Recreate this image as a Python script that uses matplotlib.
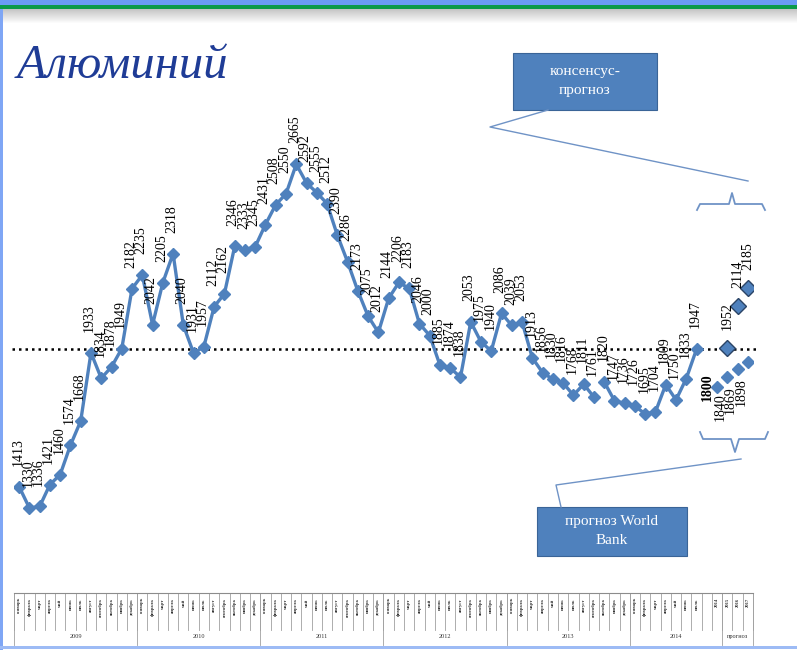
import matplotlib
matplotlib.use("Agg")
import matplotlib.pyplot as plt
from matplotlib.patches import Rectangle

plt.rcParams["font.family"] = ["Liberation Serif", "DejaVu Serif"]

# Monthly LME aluminium prices, Jan 2009 - Jul 2014
months = ["январь", "февраль", "март", "апрель", "май", "июнь",
          "июль", "август", "сентябрь", "октябрь", "ноябрь", "декабрь"]
prices_2009 = [1413, 1330, 1336, 1421, 1460, 1574, 1668, 1933, 1834, 1878, 1949, 2182]
prices_2010 = [2235, 2042, 2205, 2318, 2040, 1931, 1957, 2112, 2162, 2346, 2333, 2345]
prices_2011 = [2431, 2508, 2550, 2665, 2592, 2555, 2512, 2390, 2286, 2173, 2075, 2012]
prices_2012 = [2144, 2206, 2183, 2046, 2000, 1885, 1874, 1838, 2053, 1975, 1940, 2086]
prices_2013 = [2039, 2053, 1913, 1856, 1830, 1816, 1768, 1811, 1761, 1820, 1747, 1736]
prices_2014 = [1726, 1695, 1704, 1809, 1750, 1833, 1947]
prices = prices_2009 + prices_2010 + prices_2011 + prices_2012 + prices_2013 + prices_2014

# forecasts
wb_years = ["2014", "2015", "2016", "2017"]
wb_values = [1800, 1840, 1869, 1898]
cons_years = ["2015", "2016", "2017"]
cons_values = [1952, 2114, 2185]
level = 1947

# category axis
categories = months * 5 + months[:7] + ["", "2014", "2015", "2016", "2017"]
group_names = ["2009", "2010", "2011", "2012", "2013", "2014", "прогноз"]
group_sizes = [12, 12, 12, 12, 12, 9, 3]

W, H = 797, 650
fig = plt.figure(figsize=(W / 100, H / 100), dpi=100)
ax = fig.add_axes([14 / W, 1 - 593 / H, 739 / W, 515 / H])
ax.set_xlim(-0.5, len(categories) - 0.5)
ax.set_ylim(1000, 3000)

blue = "#4F81BD"
x_hist = list(range(len(prices)))
# the line has a break between Sep and Oct 2013 in the original
brk = 57
ax.plot(x_hist[:brk], prices[:brk], color=blue, lw=2.4, marker="D", ms=6, zorder=3)
ax.plot(x_hist[brk:], prices[brk:], color=blue, lw=2.4, marker="D", ms=6, zorder=3)

for i, v in enumerate(prices):
    ax.annotate(str(v), (i, v), xytext=(-1, 15), textcoords="offset points",
                rotation=90, ha="center", va="bottom", fontsize=10)

wb_x = [len(categories) - 4 + wb_years.index(y) for y in wb_years]
ax.plot(wb_x, wb_values, ls="none", marker="D", ms=6.5, color=blue, zorder=3)
for k, (x, v) in enumerate(zip(wb_x, wb_values)):
    if k == 0:
        ax.annotate(str(v), (x, v), xytext=(-7, 0), textcoords="offset points",
                    rotation=90, ha="center", va="center", fontsize=10,
                    fontweight="bold")
    else:
        ax.annotate(str(v), (x, v), xytext=(-5, -12), textcoords="offset points",
                    rotation=90, ha="center", va="top", fontsize=10)

cons_x = [len(categories) - 3 + cons_years.index(y) for y in cons_years]
ax.plot(cons_x, cons_values, ls="none", marker="D", ms=8, color=blue,
        mec="#2B4466", mew=1.0, zorder=3)
for x, v in zip(cons_x, cons_values):
    ax.annotate(str(v), (x, v), xytext=(0, 13), textcoords="offset points",
                rotation=90, ha="center", va="bottom", fontsize=10)

ax.axhline(level, xmin=-0.003, xmax=1.006, color="black", lw=1.8,
           ls=(0, (1, 1.6)), clip_on=False, zorder=2)

# category table under the axis
for s in ["top", "right", "left"]:
    ax.spines[s].set_visible(False)
ax.spines["bottom"].set_color("#8C8C8C")
ax.spines["bottom"].set_linewidth(0.8)
ax.set_xticks([])
ax.set_yticks([])

trans = ax.get_xaxis_transform()
for b in range(len(categories) + 1):
    ax.plot([b - 0.5, b - 0.5], [0, -0.072], transform=trans, color="#A0A0A0",
            lw=0.6, clip_on=False)
for i, c in enumerate(categories):
    ax.text(i, -0.01, c, transform=trans, rotation=90, ha="center", va="top",
            fontsize=3.3, fontweight="bold", color="#333333")
start = 0
for name, size in zip(group_names, group_sizes):
    ax.plot([start - 0.5, start - 0.5], [0, -0.1], transform=trans,
            color="#A0A0A0", lw=0.6, clip_on=False)
    ax.text(start + size / 2 - 0.5, -0.085, name, transform=trans, ha="center",
            va="center", fontsize=4.5, color="#333333")
    start += size
ax.plot([start - 0.5, start - 0.5], [0, -0.1], transform=trans,
        color="#A0A0A0", lw=0.6, clip_on=False)

# slide decoration in pixel coordinates
deco = fig.add_axes([0, 0, 1, 1], zorder=5)
deco.set_xlim(0, W)
deco.set_ylim(H, 0)
deco.axis("off")
deco.patch.set_visible(False)

deco.add_patch(Rectangle((0, 0), W, 5, color="#6B9BF5", lw=0))
deco.add_patch(Rectangle((0, 5), W, 4, color="#0C9A4A", lw=0))
for k in range(14):
    deco.add_patch(Rectangle((0, 9 + k), W, 1, color="#808080",
                             alpha=0.45 * (1 - k / 14), lw=0))
deco.add_patch(Rectangle((0, 9), 3, H - 9, color="#7FA6F5", lw=0))
deco.add_patch(Rectangle((0, 646), W, 2.5, color="#9DBBF5", lw=0))

deco.text(17, 78, "Алюминий", fontsize=35, style="italic", color="#1F3C96",
          va="baseline", ha="left")

line_c = "#6F93C6"
# consensus callout
deco.add_patch(Rectangle((513, 53), 144, 57, facecolor=blue, edgecolor="#3A6497", lw=0.8))
deco.text(585, 81, "консенсус-\nпрогноз", color="white", fontsize=11,
          ha="center", va="center", linespacing=1.6)
deco.plot([548, 490, 748], [110, 127, 181], color=line_c, lw=1)
deco.plot([697, 700, 729, 732, 735, 762, 765], [210, 204, 204, 193, 204, 204, 210],
          color=line_c, lw=1.3)

# World Bank callout
deco.add_patch(Rectangle((537, 507), 150, 49, facecolor=blue, edgecolor="#3A6497", lw=0.8))
deco.text(612, 531, "прогноз World\nBank", color="white", fontsize=11,
          ha="center", va="center", linespacing=1.5)
deco.plot([561, 556, 741], [507, 485, 459], color=line_c, lw=1)
deco.plot([700, 703, 731, 735, 739, 765, 768], [432, 439, 439, 452, 439, 439, 432],
          color=line_c, lw=1.3)

fig.savefig("out.png", dpi=100)
